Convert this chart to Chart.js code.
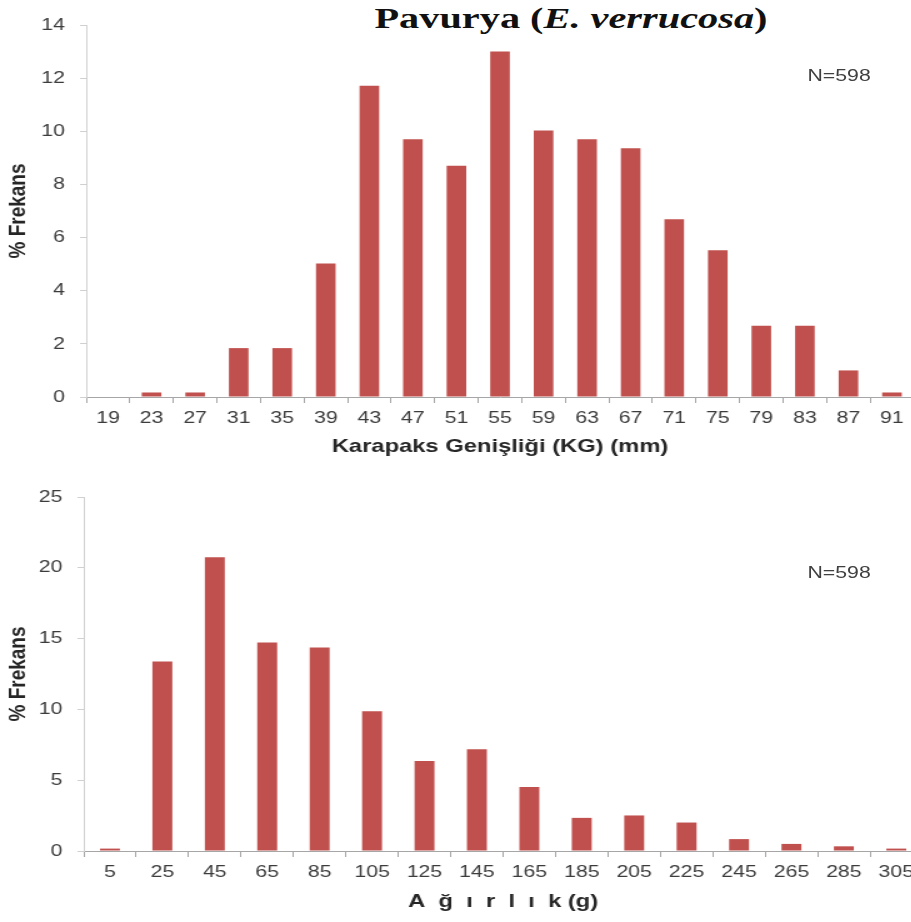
<!DOCTYPE html>
<html>
<head>
<meta charset="utf-8">
<script src="https://cdn.jsdelivr.net/npm/chart.js@4.4.0/dist/chart.umd.min.js"></script>
<style>
  html, body { margin: 0; padding: 0; background: #fff; overflow: hidden; width: 911px; height: 922px; }
  #wrap { position: absolute; left: 0; top: 0; width: 750px; height: 922px; transform: scaleX(1.25); transform-origin: 0 0; }
  #wrap canvas { position: absolute; left: 0; }
  .n { position: absolute; left: 646px; font: 17px "Liberation Sans", Arial, sans-serif; color: #404040; }
  #title { position: absolute; left: 571px; top: 2px; font: bold 29px "Liberation Serif", "Times New Roman", serif; color: #111;
           white-space: nowrap; transform: translateX(-50%) scaleX(1.39); }
</style>
</head>
<body>
<div id="title">Pavurya (<i>E. verrucosa</i>)</div>
<div id="wrap">
  <canvas id="kgChart" width="745" height="470" style="top:0px"></canvas>
  <canvas id="wChart" width="745" height="452" style="top:470px"></canvas>
  <div class="n" style="top:66px">N=598</div>
  <div class="n" style="top:563px">N=598</div>
</div>
<script>
// Karapaks genişliği (mm) frekans dağılımı
const kgLabels = ["19", "23", "27", "31", "35", "39", "43", "47", "51", "55", "59", "63", "67", "71", "75", "79", "83", "87", "91"];
const kgValues = [0, 0.17, 0.17, 1.84, 1.84, 5.02, 11.71, 9.7, 8.7, 13.0, 10.03, 9.7, 9.36, 6.69, 5.52, 2.68, 2.68, 1.0, 0.17];

// Ağırlık (g) frekans dağılımı
const wLabels = ["5", "25", "45", "65", "85", "105", "125", "145", "165", "185", "205", "225", "245", "265", "285", "305"];
const wValues = [0.17, 13.38, 20.74, 14.72, 14.38, 9.87, 6.35, 7.19, 4.52, 2.34, 2.51, 2.01, 0.84, 0.5, 0.33, 0.17];

const barColor = "#c0504d";
const textColor = "#3c3c3c";
const fontFamily = '"Liberation Sans", Arial, sans-serif';

function makeChart(id, labels, values, opts) {
  return new Chart(document.getElementById(id), {
    type: "bar",
    data: {
      labels: labels,
      datasets: [{
        data: values,
        backgroundColor: barColor,
        borderWidth: 0,
        barPercentage: opts.barPct,
        categoryPercentage: 1,
      }],
    },
    options: {
      responsive: false,
      animation: false,
      layout: { padding: { top: opts.padTop, right: opts.padRight, bottom: 0, left: 0 } },
      plugins: { legend: { display: false }, tooltip: { enabled: false } },
      scales: {
        x: {
          grid: { drawOnChartArea: false, drawTicks: true, tickLength: 6, color: "#a6a6a6", offset: true },
          border: { color: "#a6a6a6", width: 1 },
          ticks: { color: textColor, font: { family: fontFamily, size: 17 }, padding: 5, maxRotation: 0, autoSkip: false },
          title: {
            display: true,
            text: opts.xTitle,
            color: "#262626",
            font: { family: fontFamily, size: 19, weight: "bold" },
            padding: { top: 0, bottom: opts.xTitlePad },
          },
          afterFit: (scale) => { scale.height = opts.xHeight; },
        },
        y: {
          min: 0,
          max: opts.yMax,
          grid: { drawOnChartArea: false, drawTicks: true, tickLength: 5, color: "#d0d0d0" },
          border: { color: "#d0d0d0", width: 1 },
          ticks: { stepSize: opts.step, color: textColor, font: { family: fontFamily, size: 17 }, padding: 12 },
          title: {
            display: true,
            text: "% Frekans",
            color: "#262626",
            font: { family: fontFamily, size: 19, weight: "bold" },
            padding: { top: 3, bottom: 0 },
          },
          afterFit: (scale) => { scale.width = opts.yWidth; },
        },
      },
    },
  });
}

makeChart("kgChart", kgLabels, kgValues, {
  yMax: 14, step: 2, xTitle: "Karapaks Genişliği (KG) (mm)",
  barPct: 0.45, padTop: 25, padRight: 14, xHeight: 73, xTitlePad: 12, yWidth: 69,
});

makeChart("wChart", wLabels, wValues, {
  yMax: 25, step: 5, xTitle: "A  ğ  ı  r  l  ı  k (g)",
  barPct: 0.38, padTop: 27, padRight: 7, xHeight: 71, xTitlePad: 9, yWidth: 67,
});
</script>
</body>
</html>
